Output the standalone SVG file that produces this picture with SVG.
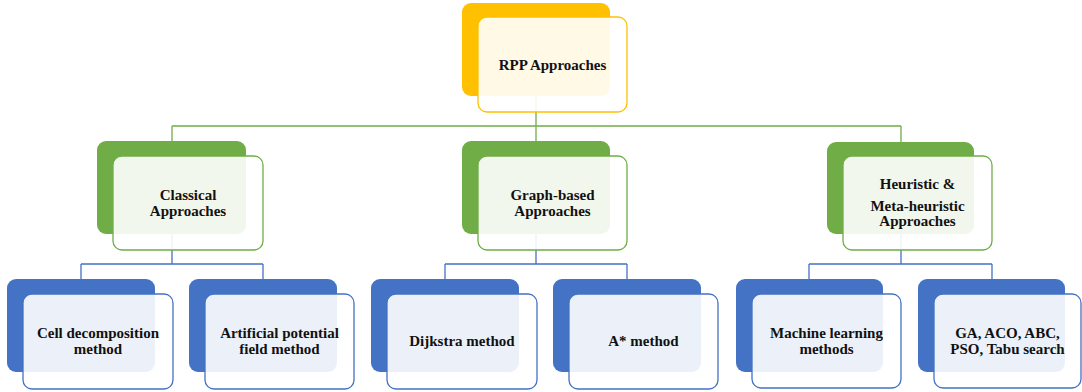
<svg xmlns="http://www.w3.org/2000/svg" width="1082" height="392" viewBox="0 0 1082 392">
<style>
.front{fill:#fff;fill-opacity:0.9;stroke-width:1.3}
.o .back{fill:#FFC000}.o .front{stroke:#FFC000}
.g .back{fill:#70AD47}.g .front{stroke:#70AD47}
.b .back{fill:#4472C4}.b .front{stroke:#4472C4}
.cg{stroke:#70AD47;stroke-width:1.3;fill:none}
.cb{stroke:#4472C4;stroke-width:1.3;fill:none}
</style>
<rect width="1082" height="392" fill="#fff"/>
<g id="connectors">
<path class="cg" d="M536 96V126M172 126H901M172 126V141M536 126V141M901 126V142"/>
<path class="cb" d="M172 234V264M81 264H263M81 264V279M263 264V279"/>
<path class="cb" d="M536 234V264M445 264H627M445 264V279M627 264V279"/>
<path class="cb" d="M901 234V264M809 264H992M809 264V279M992 264V279"/>
</g>
<g font-family="Liberation Serif, DejaVu Serif, serif" font-weight="bold" font-size="15" fill="#111" text-anchor="middle">
<g id="rpp" class="o">
<rect class="back" x="462" y="3" width="148" height="93" rx="9"/>
<rect class="front" x="478" y="17" width="149" height="95" rx="9"/>
<text x="552.5" y="70" fill="#111">RPP Approaches</text>
</g>
<g id="classical" class="g">
<rect class="back" x="97" y="141" width="149" height="93" rx="9"/>
<rect class="front" x="113" y="156" width="150" height="94" rx="9"/>
<text x="188" y="200" fill="#111">Classical</text>
<text x="188" y="216" fill="#111">Approaches</text>
</g>
<g id="graph" class="g">
<rect class="back" x="462" y="141" width="148" height="93" rx="9"/>
<rect class="front" x="478" y="156" width="149" height="94" rx="9"/>
<text x="552.5" y="200" fill="#111">Graph-based</text>
<text x="552.5" y="216" fill="#111">Approaches</text>
</g>
<g id="heuristic" class="g">
<rect class="back" x="827" y="142" width="147" height="92" rx="9"/>
<rect class="front" x="843" y="156" width="149" height="94" rx="9"/>
<text x="917.5" y="189" fill="#111">Heuristic &amp;</text>
<text x="917.5" y="211" fill="#111">Meta-heuristic</text>
<text x="917.5" y="226" fill="#111">Approaches</text>
</g>
<g id="cell" class="b">
<rect class="back" x="7" y="279" width="148" height="93" rx="9"/>
<rect class="front" x="23" y="294" width="150" height="95" rx="9"/>
<text x="98" y="338" fill="#111">Cell decomposition</text>
<text x="98" y="354" fill="#111">method</text>
</g>
<g id="apf" class="b">
<rect class="back" x="189" y="279" width="148" height="93" rx="9"/>
<rect class="front" x="205" y="294" width="149" height="95" rx="9"/>
<text x="279.5" y="338" fill="#111">Artificial potential</text>
<text x="279.5" y="354" fill="#111">field method</text>
</g>
<g id="dijkstra" class="b">
<rect class="back" x="371" y="279" width="148" height="93" rx="9"/>
<rect class="front" x="387" y="294" width="150" height="95" rx="9"/>
<text x="462" y="346" fill="#111">Dijkstra method</text>
</g>
<g id="astar" class="b">
<rect class="back" x="553" y="279" width="148" height="93" rx="9"/>
<rect class="front" x="569" y="294" width="149" height="95" rx="9"/>
<text x="643.5" y="346" fill="#111">A* method</text>
</g>
<g id="ml" class="b">
<rect class="back" x="736" y="279" width="147" height="93" rx="9"/>
<rect class="front" x="752" y="294" width="149" height="94" rx="9"/>
<text x="826.5" y="338" fill="#111">Machine learning</text>
<text x="826.5" y="354" fill="#111">methods</text>
</g>
<g id="meta" class="b">
<rect class="back" x="918" y="279" width="147" height="93" rx="9"/>
<rect class="front" x="934" y="294" width="147" height="94" rx="9"/>
<text x="1007.5" y="338" fill="#111">GA, ACO, ABC,</text>
<text x="1007.5" y="354" fill="#111">PSO, Tabu search</text>
</g>
</g>
</svg>
